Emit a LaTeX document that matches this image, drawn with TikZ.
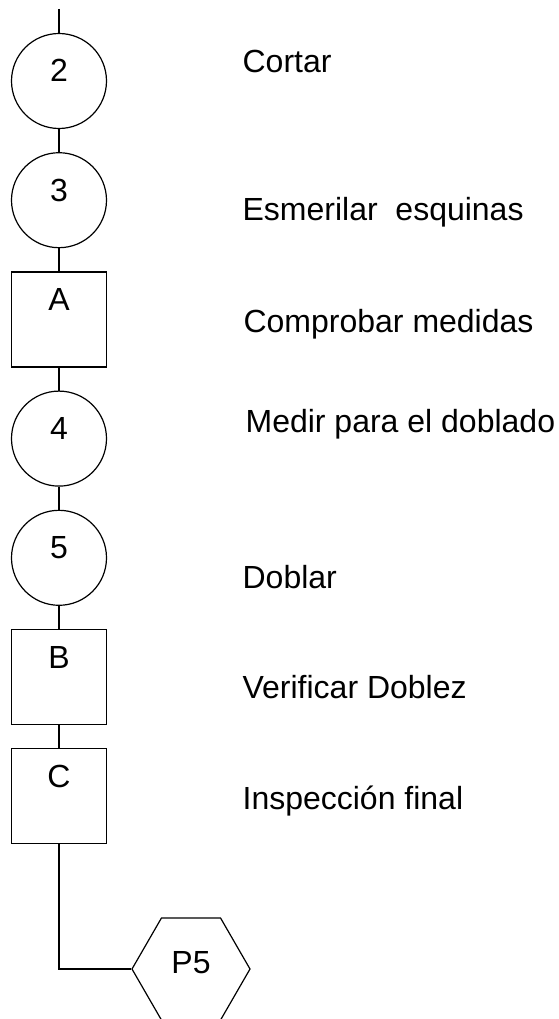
\documentclass[tikz,border=0pt]{standalone}
\usepackage{fontspec}
\setmainfont{Liberation Sans}
\usetikzlibrary{positioning,shapes.geometric}

\tikzset{
  oper/.style={circle, draw, minimum size=95pt, inner sep=0pt,
    font=\fontsize{32}{32}\selectfont, text height=22pt, text depth=20pt},
  insp/.style={rectangle, draw, minimum width=95pt, minimum height=95pt, inner sep=0pt,
    font=\fontsize{32}{32}\selectfont, text height=12pt, text depth=30pt},
  part/.style={regular polygon, regular polygon sides=6, draw, minimum size=118pt,
    inner sep=0pt, font=\fontsize{32}{32}\selectfont, text height=24pt, text depth=16pt},
  desc/.style={anchor=base west, inner sep=0pt, font=\fontsize{32}{32}\selectfont}
}

\begin{document}
\begin{tikzpicture}[x=1pt, y=-1pt, line width=1.2pt, node distance=23pt]
    \useasboundingbox (0,0) rectangle (558,1019);

    \coordinate (start) at (59,9);
    \node[oper] (c2) at (59,81) {2};
    \node[oper, below=of c2] (c3) {3};
    \node[insp, below=of c3] (iA) {A};
    \node[oper, below=of iA] (c4) {4};
    \node[oper, below=of c4] (c5) {5};
    \node[insp, below=of c5] (iB) {B};
    \node[insp, below=of iB] (iC) {C};
    \node[part] (p5) at (191,969) {P5};

    \node[desc] (dcortar) at (242,73) {Cortar};
    \node[desc] (desmer) at (242,220) {Esmerilar\ \ esquinas};
    \node[desc] (dcomp) at (243,332) {Comprobar medidas};
    \node[desc] (dmedir) at (245,432) {Medir para el doblado};
    \node[desc] (ddoblar) at (242,588) {Doblar};
    \node[desc] (dverif) at (242,698) {Verificar Doblez};
    \node[desc] (dinsp) at (242,809) {Inspección final};

    \draw (start) -- (c2);
    \draw (c2) -- (c3);
    \draw (c3) -- (iA);
    \draw (iA) -- (c4);
    \draw (c4) -- (c5);
    \draw (c5) -- (iB);
    \draw (iB) -- (iC);
    \draw (iC) |- (p5);
\end{tikzpicture}
\end{document}
